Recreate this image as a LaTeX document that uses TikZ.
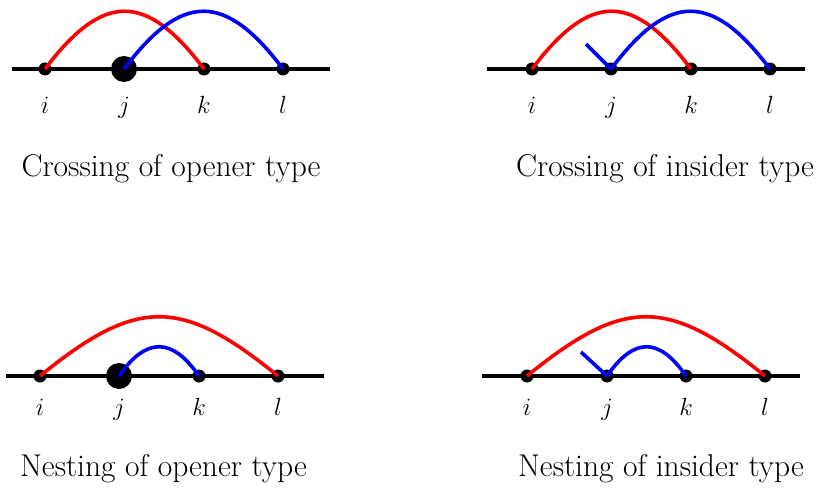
\documentclass[tikz,border=0pt]{standalone}
\begin{document}
\begin{tikzpicture}[x=1pt,y=-1pt,
  every node/.style={inner sep=0pt},
  axis/.style={line width=3.6pt, black},
  sdot/.style={circle, fill=black, minimum size=13pt},
  bdot/.style={circle, fill=black, minimum size=26pt},
  redarc/.style={line width=3.6pt, red},
  bluearc/.style={line width=3.6pt, blue},
  lbl/.style={anchor=base, font=\fontsize{26}{30}\selectfont},
  captext/.style={anchor=base, font=\fontsize{31.5}{36}\selectfont}]
\useasboundingbox (0,0) rectangle (822,495);

% ---------- Panel A: crossing, opener ----------
\coordinate (aL) at (12,69);
\coordinate (aR) at (330,69);
\draw[axis] (aL) -- (aR);
\node[sdot] (ai) at (45,69) {};
\node[bdot] (aj) at (124,69) {};
\node[sdot] (ak) at (204,69) {};
\node[sdot] (al) at (283,69) {};
\draw[redarc] (ai.center) .. controls +(58,-77) and +(-58,-77) .. (ak.center);
\draw[bluearc] (aj.center) .. controls +(58,-77) and +(-58,-77) .. (al.center);
\node[lbl] (ati) at (45,113) {$i$};
\node[lbl] (atj) at (124,113) {$j$};
\node[lbl] (atk) at (204,113) {$k$};
\node[lbl] (atl) at (283,113) {$l$};
\node[captext] (acap) at (171,176.5) {Crossing of opener type};

% ---------- Panel B: crossing, insider ----------
\coordinate (bL) at (487,69);
\coordinate (bR) at (805,69);
\draw[axis] (bL) -- (bR);
\node[sdot] (bi) at (532,69) {};
\node[sdot] (bj) at (611,69) {};
\node[sdot] (bk) at (691,69) {};
\node[sdot] (bl) at (770,69) {};
\draw[redarc] (bi.center) .. controls +(58,-77) and +(-58,-77) .. (bk.center);
\draw[bluearc] (bj.center) .. controls +(58,-77) and +(-58,-77) .. (bl.center);
\coordinate (bs) at (586,44);
\draw[bluearc] (bs) -- (bj.center);
\node[lbl] (bti) at (532,113) {$i$};
\node[lbl] (btj) at (611,113) {$j$};
\node[lbl] (btk) at (691,113) {$k$};
\node[lbl] (btl) at (770,113) {$l$};
\node[captext] (bcap) at (665,176.5) {Crossing of insider type};

% ---------- Panel C: nesting, opener ----------
\coordinate (cL) at (6,376);
\coordinate (cR) at (324,376);
\draw[axis] (cL) -- (cR);
\node[sdot] (ci) at (40,376) {};
\node[bdot] (cj) at (119,376) {};
\node[sdot] (ck) at (199,376) {};
\node[sdot] (cl) at (278,376) {};
\draw[redarc] (ci.center) .. controls +(97,-79) and +(-97,-79) .. (cl.center);
\draw[bluearc] (cj.center) .. controls +(27,-39) and +(-27,-39) .. (ck.center);
\node[lbl] (cti) at (40,415) {$i$};
\node[lbl] (ctj) at (119,415) {$j$};
\node[lbl] (ctk) at (199,415) {$k$};
\node[lbl] (ctl) at (278,415) {$l$};
\node[captext] (ccap) at (163.5,476.5) {Nesting of opener type};

% ---------- Panel D: nesting, insider ----------
\coordinate (dL) at (482,376);
\coordinate (dR) at (800,376);
\draw[axis] (dL) -- (dR);
\node[sdot] (di) at (527,376) {};
\node[sdot] (dj) at (607,376) {};
\node[sdot] (dk) at (686,376) {};
\node[sdot] (dl) at (765,376) {};
\draw[redarc] (di.center) .. controls +(97,-79) and +(-97,-79) .. (dl.center);
\draw[bluearc] (dj.center) .. controls +(27,-39) and +(-27,-39) .. (dk.center);
\coordinate (ds) at (581,352);
\draw[bluearc] (ds) -- (dj.center);
\node[lbl] (dti) at (527,415) {$i$};
\node[lbl] (dtj) at (607,415) {$j$};
\node[lbl] (dtk) at (686,415) {$k$};
\node[lbl] (dtl) at (765,415) {$l$};
\node[captext] (dcap) at (661,476.5) {Nesting of insider type};
\end{tikzpicture}
\end{document}
